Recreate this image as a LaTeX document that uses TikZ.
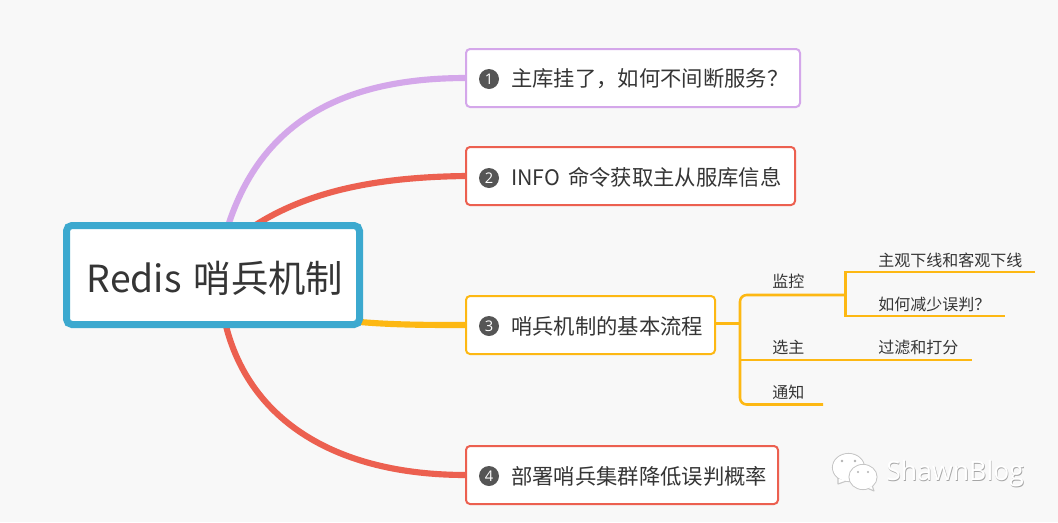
\documentclass[tikz,border=0pt]{standalone}
\usepackage{fontspec}
\setmainfont{Noto Sans CJK SC}
\newfontfamily\latinf{Open Sans}
\definecolor{bgc}{HTML}{F8F8F8}
\definecolor{txt}{HTML}{353535}
\definecolor{blu}{HTML}{3CA9CF}
\definecolor{pur}{HTML}{D4A7EA}
\definecolor{red1}{HTML}{EC6050}
\definecolor{yel}{HTML}{FDB813}
\definecolor{dot}{HTML}{555555}
\tikzset{
 x=0.75pt,y=-0.75pt,
 topic/.style={draw=#1,fill=white,line width=1.5pt,rounded corners=3pt,anchor=north west,inner sep=0pt,outer sep=0pt},
 label/.style={anchor=west,inner sep=0pt,text=txt,font=\fontsize{16}{16}\selectfont},
 num/.style={circle,fill=dot,text=white,minimum size=15pt,inner sep=0pt,font=\fontsize{11}{11}\selectfont},
 small/.style={anchor=west,inner sep=0pt,text=txt,font=\fontsize{12}{12}\selectfont},
 thick1/.style={line width=4.6pt,line cap=butt},
 thin1/.style={draw=yel,line width=1.9pt},
}
\begin{document}
\begin{tikzpicture}
\useasboundingbox (0,0) rectangle (1058,522);
\fill[bgc] (0,0) rectangle (1058,522);
% topic boxes
\node[topic=pur,minimum width=250.5pt,minimum height=43.5pt] (t1) at (466,49) {};
\node[topic=red1,minimum width=246.75pt,minimum height=43.5pt] (t2) at (466,147) {};
\node[topic=yel,minimum width=186.75pt,minimum height=43.5pt] (t3) at (466,296) {};
\node[topic=red1,minimum width=234pt,minimum height=43.5pt] (t4) at (466,446) {};
% root anchors and curves
\coordinate (r1) at (228,226);
\coordinate (r2) at (254,226);
\coordinate (r3) at (360,322);
\coordinate (r4) at (226,326);
\draw[pur,thick1] (r1) .. controls (262,120) and (345,78) .. (t1.west);
\draw[red1,thick1] (r2) .. controls (310,190) and (380,177) .. (t2.west);
\draw[yel,thick1] (r3) .. controls (395,325) and (430,325) .. (t3.west);
\draw[red1,thick1] (r4) .. controls (250,420) and (335,475) .. (t4.west);
% root
\node[draw=blu,fill=white,line width=5.25pt,rounded corners=4pt,minimum width=219.75pt,minimum height=74.25pt,text=txt,font=\fontsize{28}{28}\selectfont,inner sep=0pt,outer sep=0pt,anchor=north west,text height=26.6pt,text depth=0pt] (root) at (66.5,225.5) {\hspace*{3pt}Redis\hspace{3pt} 哨兵机制};
% labels
\node[num] (n1) at (489,79) {\latinf 1};
\node[label] (l1) at (511,79) {主库挂了，如何不间断服务？};
\node[num] (n2) at (489,178) {\latinf 2};
\node[label] (l2) at (511,177) {INFO\hspace{2.4pt} 命令获取主从服库信息};
\node[num] (n3) at (489,326) {\latinf 3};
\node[label] (l3) at (511,326) {哨兵机制的基本流程};
\node[num] (n4) at (489,476) {\latinf 4};
\node[label] (l4) at (511,476) {部署哨兵集群降低误判概率};
% sub tree
\node[small] (s1) at (772,281) {监控};
\node[small] (s2) at (772,347) {选主};
\node[small] (s3) at (772,392) {通知};
\node[small] (d1) at (878,260) {主观下线和客观下线};
\node[small] (d2) at (878,304) {如何减少误判？};
\node[small] (d3) at (878,347) {过滤和打分};
\coordinate (j) at (740,323.5);
\coordinate (e1) at (845.5,295);
\coordinate (e2) at (823,360);
\coordinate (e3) at (823,404.5);
\coordinate (f1) at (1035,272);
\coordinate (f2) at (1004.5,316);
\coordinate (f3) at (972,360);
\draw[thin1] (t3.east |- j) -- (j);
\draw[thin1,rounded corners=5pt] (e1) -- (740,295) -- (740,404.5) -- (e3);
\draw[thin1] (740,360) -- (e2) -- (f3);
\draw[thin1] (f1) -- (845.5,272) -- (845.5,316) -- (f2);
% watermark
\begin{scope}[line width=0.8pt]
\draw[gray!45,fill=white] (848.5,467.5) ellipse (16 and 14);
\draw[gray!45,fill=white,line join=round] (838,478) -- (838,484) -- (848,480.5) -- cycle;
\fill[white] (848.5,467.5) ellipse (15.5 and 13.5);
\draw[gray!45,fill=white] (863,477) ellipse (14 and 12.5);
\draw[gray!45,fill=white,line join=round] (867,488) -- (874,491) -- (872,485) -- cycle;
\fill[white] (863,477) ellipse (13.5 and 12);
\fill[gray!60] (842,461) circle (1.3) (855,461) circle (1.3) (858,472) circle (1.2) (868,472) circle (1.2);
\end{scope}
\node[anchor=west,inner sep=0pt,text=gray!70,font=\latinf\fontsize{20}{20}\selectfont] (wms) at (886.7,474.7) {ShawnBlog};
\node[anchor=west,inner sep=0pt,text=white,font=\latinf\fontsize{20}{20}\selectfont] (wm) at (886,474) {ShawnBlog};
\end{tikzpicture}
\end{document}
